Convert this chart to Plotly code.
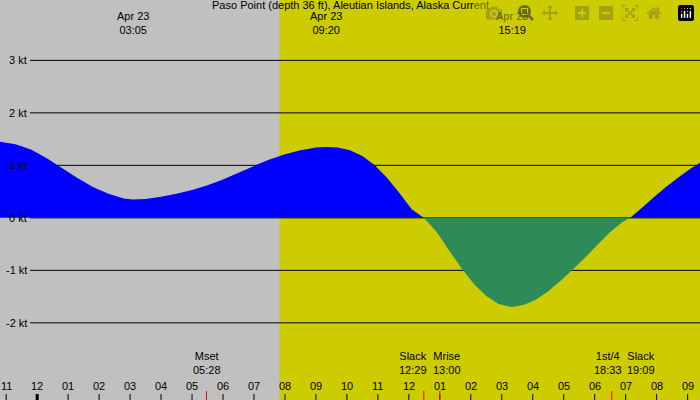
import plotly.graph_objects as go

# hours since Apr 22 00:00
hours = [22.8, 23.3, 23.8, 24.3, 24.8, 25.3, 25.8, 26.3, 26.8, 27.083, 27.5, 28.0,
         28.5, 29.0, 29.5, 30.0, 30.5, 31.0, 31.5, 32.0, 32.5, 33.0, 33.333, 33.7,
         34.1, 34.5, 34.9, 35.3, 35.7, 36.1, 36.483, 36.9, 37.3, 37.7, 38.1, 38.5,
         38.9, 39.317, 39.7, 40.1, 40.5, 40.9, 41.3, 41.7, 42.1, 42.5, 42.9, 43.15,
         43.5, 43.9, 44.3, 44.7, 45.1, 45.4]
speed = [1.45, 1.40, 1.30, 1.14, 0.95, 0.76, 0.59, 0.46, 0.37, 0.35, 0.36, 0.40,
         0.46, 0.53, 0.62, 0.73, 0.86, 0.99, 1.11, 1.21, 1.29, 1.34, 1.35, 1.34,
         1.29, 1.18, 1.00, 0.76, 0.47, 0.16, 0.0, -0.27, -0.62, -0.96, -1.26, -1.49,
         -1.64, -1.70, -1.66, -1.56, -1.40, -1.20, -0.98, -0.75, -0.51, -0.27, -0.08, 0.0,
         0.18, 0.39, 0.59, 0.77, 0.94, 1.05]
hour_labels = ["11", "12", "01", "02", "03", "04", "05", "06", "07", "08", "09", "10",
               "11", "12", "01", "02", "03", "04", "05", "06", "07", "08", "09"]
y_ticks = [3, 2, 1, 0, -1, -2]
top_events = [(22.633, "22<br>38"), (27.083, "Apr 23<br>03:05"),
              (33.333, "Apr 23<br>09:20"), (39.317, "Apr 23<br>15:19")]
bottom_events = [(29.467, "Mset<br>05:28", 0), (36.483, "Slack<br>12:29", -11),
                 (37.0, "Mrise<br>13:00", 7), (42.55, "1st/4<br>18:33", -4),
                 (43.15, "Slack<br>19:09", 11)]
red_marks = [29.467, 36.483, 37.0, 42.55]

X0, X1, Y0, Y1 = 22.8, 45.4, -3.47, 4.15
night_end = 31.83

pos = [max(v, 0) for v in speed]
neg = [min(v, 0) for v in speed]

fig = go.Figure()
fig.add_trace(go.Scatter(x=hours, y=pos, fill="tozeroy", mode="none",
                         fillcolor="#0000ff", hoverinfo="skip"))
fig.add_trace(go.Scatter(x=hours, y=neg, fill="tozeroy", mode="none",
                         fillcolor="#2e8b57", hoverinfo="skip"))

shapes = [
    dict(type="rect", xref="x", yref="paper", x0=X0, x1=night_end, y0=0, y1=1,
         fillcolor="#c0c0c0", line_width=0, layer="below"),
    dict(type="rect", xref="x", yref="paper", x0=night_end, x1=X1, y0=0, y1=1,
         fillcolor="#cccc00", line_width=0, layer="below"),
]
for v in y_ticks:
    shapes.append(dict(type="line", xref="paper", yref="y", x0=30 / 700, x1=1, y0=v, y1=v,
                       line=dict(color="black", width=1), layer="below"))
annotations = []
f = dict(size=11, family="Liberation Sans")
for v in y_ticks:
    annotations.append(dict(x=29 / 700, xref="paper", y=v, yref="y", text=f"{v} kt",
                            showarrow=False, xanchor="right", font=f))
for i, lab in enumerate(hour_labels):
    h = 23 + i
    annotations.append(dict(x=h, y=0, yref="paper", text=lab, showarrow=False,
                            yanchor="bottom", yshift=6, font=f))
    shapes.append(dict(type="line", xref="x", yref="paper", x0=h, x1=h, y0=0, y1=6 / 400,
                       line=dict(color="black", width=3 if h == 24 else 1)))
for h in red_marks:
    shapes.append(dict(type="line", xref="x", yref="paper", x0=h, x1=h, y0=0, y1=9 / 400,
                       line=dict(color="red", width=1)))
for h, t in top_events:
    annotations.append(dict(x=h, y=1, yref="paper", text=t, showarrow=False,
                            yanchor="top", yshift=-8, font=f))
for h, t, dx in bottom_events:
    annotations.append(dict(x=h, y=22 / 400, yref="paper", text=t, showarrow=False,
                            yanchor="bottom", xshift=dx, font=f))
annotations.append(dict(x=0.5, y=1, xref="paper", yref="paper", yshift=3, showarrow=False,
                        yanchor="top", text="Paso Point (depth 36 ft), Aleutian Islands, Alaska Current",
                        font=f))

fig.update_layout(
    width=700, height=400, margin=dict(l=0, r=0, t=0, b=0, pad=0), showlegend=False,
    font=dict(family="Liberation Sans", color="black"),
    xaxis=dict(range=[X0, X1], visible=False),
    yaxis=dict(range=[Y0, Y1], visible=False),
    plot_bgcolor="#cccc00", paper_bgcolor="#cccc00",
    shapes=shapes, annotations=annotations,
)
fig.write_html("out.html", post_script="document.body.style.margin='0';")
